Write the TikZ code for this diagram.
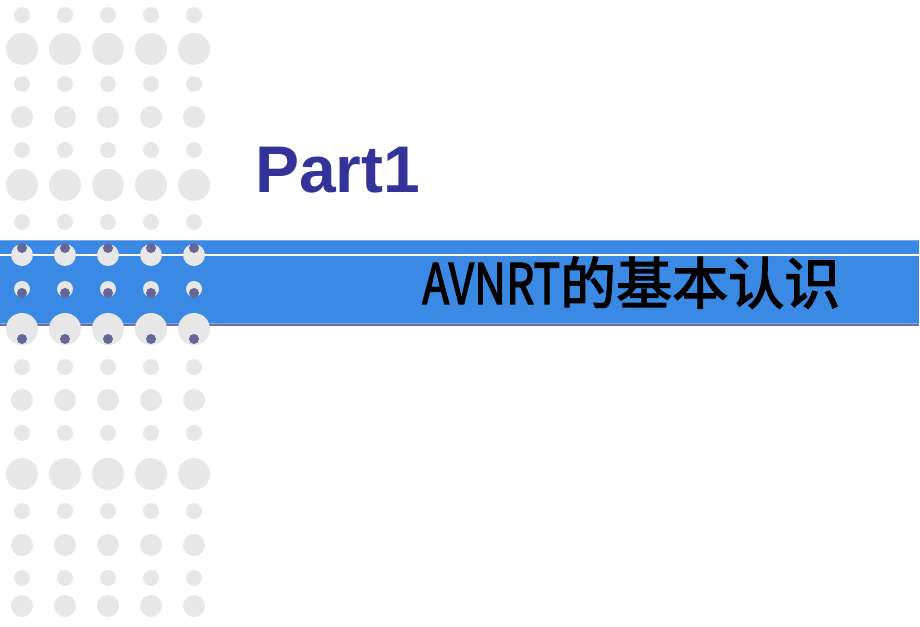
\documentclass[tikz,border=0pt]{standalone}
\usepackage{fontspec}
\setmainfont{Liberation Sans}
\newfontfamily\cjk[BoldFont={Noto Sans CJK SC}, BoldFeatures={FakeBold=2.5}]{Noto Sans CJK SC}
\usepackage{xcolor}
\usetikzlibrary{positioning}
\definecolor{bandblue}{RGB}{58,138,229}
\definecolor{bandedge}{RGB}{120,170,235}
\definecolor{bandline}{RGB}{110,110,160}
\definecolor{dotgray}{RGB}{231,231,231}
\definecolor{dotpurple}{RGB}{102,102,153}
\definecolor{titleblue}{RGB}{51,51,153}

\begin{document}
\begin{tikzpicture}[x=1pt,y=-1pt]
	\tikzstyle{every node}=[inner sep=0pt]
	\tikzstyle{graydot}=[fill=dotgray]
	\tikzstyle{purpledot}=[fill=dotpurple]
	\useasboundingbox (0,0) rectangle (920,626);
	% band
	\fill [bandblue] (0,240) rectangle (919,324);
	\draw [line width=1pt, bandedge] (0,240.5) -- (919,240.5);
	\draw [line width=1.5pt, white] (0,255) -- (919,255);
	\draw [line width=0.8pt, bandedge] (0,323) -- (919,323);
	\draw [line width=1.6pt, bandline] (0,325) -- (919,325);
	% grid of dots
	\foreach \y/\r in {15/8,49/16,84/8,117/11,150/8,185/16,222/8,255/11,289/8,329/16,367/8,400/11,433/8,474/16,511/8,545/11,578/8,606/11}
		\foreach \x in {22,65,108,151,194}
			\fill [graydot] (\x,\y) circle (\r pt);
	\foreach \y in {248,293,339}
		\foreach \x in {22,65,108,151,194}
			\fill [purpledot] (\x,\y) circle (5pt);
	% titles
	\node [anchor=base west, text=titleblue, font=\fontsize{66}{70}\selectfont\bfseries] (part) at (255,192) {Part1};
	\node [anchor=base west, text=black, font=\fontsize{56}{60}\selectfont\cjk\bfseries] (topic) at (422,304) {\resizebox{138pt}{\height}{AVNRT}的基本认识};
\end{tikzpicture}
\end{document}
